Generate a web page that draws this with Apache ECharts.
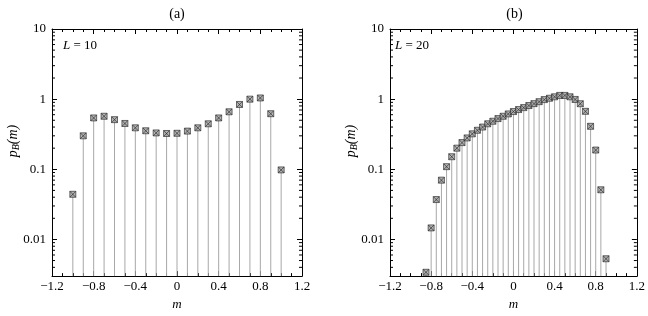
<!DOCTYPE html>
<html><head><meta charset="utf-8">
<script src="https://cdn.jsdelivr.net/npm/echarts@6/dist/echarts.min.js"></script>
<style>html,body{margin:0;padding:0;background:#fff}#c{width:648px;height:316px}</style>
</head><body><div id="c"></div>
<script>
// ---- data ----
const mL10 = [-1,-0.9,-0.8,-0.7,-0.6,-0.5,-0.4,-0.3,-0.2,-0.1,0,0.1,0.2,0.3,0.4,0.5,0.6,0.7,0.8,0.9,1];
const pL10 = [0.044,0.30,0.54,0.57,0.51,0.45,0.39,0.354,0.33,0.324,0.326,0.35,0.39,0.445,0.54,0.66,0.84,1.0,1.04,0.62,0.098];
const mL20 = [-0.85,-0.8,-0.75,-0.7,-0.65,-0.6,-0.55,-0.5,-0.45,-0.4,-0.35,-0.3,-0.25,-0.2,-0.15,-0.1,-0.05,0,
              0.05,0.1,0.15,0.2,0.25,0.3,0.35,0.4,0.45,0.5,0.55,0.6,0.65,0.7,0.75,0.8,0.85,0.9];
const pL20 = [0.0034,0.0146,0.037,0.070,0.109,0.151,0.20,0.24,0.28,0.32,0.36,0.40,0.445,0.484,0.528,0.57,0.616,0.665,
              0.71,0.757,0.81,0.863,0.92,0.985,1.03,1.08,1.13,1.13,1.08,0.99,0.86,0.67,0.41,0.188,0.051,0.0053];
const xTickLabels = [-1.2,-0.8,-0.4,0,0.4,0.8,1.2];
const yTickLabels = [0.01,0.1,1,10];
const yMinorTicks = [0.004,0.005,0.006,0.007,0.008,0.009,0.02,0.03,0.04,0.05,0.06,0.07,0.08,0.09,
                     0.2,0.3,0.4,0.5,0.6,0.7,0.8,0.9,2,3,4,5,6,7,8,9];
const panelTitles = ['(a)','(b)'];
const panelSizes = ['10','20'];
const X_MIN = -1.2, X_MAX = 1.2, Y_MIN = 0.003, Y_MAX = 10;

// ---- chart ----
const FONT = "'Liberation Serif', 'Times New Roman', serif";
const grids = [
  {left:52, top:29, width:250, height:249},
  {left:390, top:29, width:249, height:249}
];
const panels = [[mL10,pL10],[mL20,pL20]];
const fmtX = v => { const s = String(Math.round(v*10)/10); return s.replace('-', '\u2212'); };
const fmtY = v => { const r = +(+v).toPrecision(6); return yTickLabels.indexOf(r) >= 0 ? String(r) : ''; };

const xAxes = [], yAxes = [], series = [], graphic = [];
grids.forEach((g, i) => {
  const axLine = {show:true, onZero:false, lineStyle:{color:'#000', width:1}};
  xAxes.push({type:'value', gridIndex:i, position:'bottom', min:X_MIN, max:X_MAX, interval:0.4,
    axisLine:axLine, axisTick:{inside:true, length:5, lineStyle:{color:'#000'}},
    minorTick:{show:true, splitNumber:4, length:3, lineStyle:{color:'#000'}},
    splitLine:{show:false},
    axisLabel:{formatter:fmtX, fontFamily:FONT, fontSize:13, color:'#000', margin:4},
    name:'m', nameLocation:'middle', nameGap:17,
    nameTextStyle:{fontFamily:FONT, fontSize:13, fontStyle:'italic', color:'#000', verticalAlign:'top'}});
  xAxes.push({type:'value', gridIndex:i, position:'top', min:X_MIN, max:X_MAX, interval:0.4,
    axisLine:axLine, axisTick:{inside:true, length:5, lineStyle:{color:'#000'}},
    minorTick:{show:true, splitNumber:4, length:3, lineStyle:{color:'#000'}},
    splitLine:{show:false}, axisLabel:{show:false}});
  yAxes.push({type:'log', logBase:10, gridIndex:i, position:'left', min:Y_MIN, max:Y_MAX,
    axisLine:axLine, axisTick:{inside:true, length:5, lineStyle:{color:'#000'}},
    splitLine:{show:false}, minorTick:{show:false},
    axisLabel:{formatter:fmtY, fontFamily:FONT, fontSize:13, color:'#000', margin:6, showMinLabel:true}});
  yAxes.push({type:'log', logBase:10, gridIndex:i, position:'right', min:Y_MIN, max:Y_MAX,
    axisLine:axLine, axisTick:{inside:true, length:5, lineStyle:{color:'#000'}},
    splitLine:{show:false}, minorTick:{show:false}, axisLabel:{show:false}});

  const [ms, ps] = panels[i];
  const pts = ms.map((m, k) => [m, ps[k]]);
  // stems
  series.push({type:'custom', xAxisIndex:2*i, yAxisIndex:2*i, data:pts, silent:true,
    encode:{x:0, y:1},
    renderItem:(params, api) => {
      const x = api.value(0), v = api.value(1);
      const top = api.coord([x, v]);
      const bot = api.coord([x, Y_MIN]);
      return {type:'line', shape:{x1:top[0], y1:top[1], x2:bot[0], y2:bot[1]},
              style:{stroke:'#a8a8a8', lineWidth:1}};
    }});
  // minor log ticks on left & right
  series.push({type:'custom', xAxisIndex:2*i, yAxisIndex:2*i, data:yMinorTicks.map(v => [0, v]), silent:true,
    encode:{x:0, y:1},
    renderItem:(params, api) => {
      const cs = params.coordSys;
      const y = api.coord([0, api.value(1)])[1];
      return {type:'group', children:[
        {type:'line', shape:{x1:cs.x, y1:y, x2:cs.x+3, y2:y}, style:{stroke:'#000', lineWidth:1}},
        {type:'line', shape:{x1:cs.x+cs.width-3, y1:y, x2:cs.x+cs.width, y2:y}, style:{stroke:'#000', lineWidth:1}}
      ]};
    }});
  // markers
  series.push({type:'scatter', xAxisIndex:2*i, yAxisIndex:2*i, data:pts, silent:true,
    symbol:'path://M0,0H10V10H0Z M0,0L10,10 M10,0L0,10', symbolSize:6,
    itemStyle:{color:'#a0a0a0', borderColor:'#222', borderWidth:0.8}, z:5});

  // titles and annotations
  graphic.push({type:'text', x:g.left + g.width/2, y:14,
    style:{text:panelTitles[i], fontFamily:FONT, fontSize:14, fill:'#000', align:'center', verticalAlign:'middle'}});
  graphic.push({type:'text', x:(i===0 ? 63 : 395), y:46,
    style:{text:'{i|L} = ' + panelSizes[i], fontFamily:FONT, fontSize:13, fill:'#000', verticalAlign:'middle',
      rich:{i:{fontFamily:FONT, fontSize:13, fontStyle:'italic'}}}});
  graphic.push({type:'text', x:(i===0 ? 13 : 351), y:141, rotation:Math.PI/2,
    style:{text:'{i|p}{s|B}{i|(m)}', fontFamily:FONT, fontSize:14, fill:'#000', align:'center', verticalAlign:'middle',
      rich:{i:{fontFamily:FONT, fontSize:14, fontStyle:'italic'}, s:{fontFamily:FONT, fontSize:10, fontStyle:'italic', verticalAlign:'bottom', padding:[6,0,0,0]}}}});
});

const chart = echarts.init(document.getElementById('c'), null, {renderer:'canvas'});
chart.setOption({
  animation:false,
  backgroundColor:'#fff',
  grid:grids,
  xAxis:xAxes,
  yAxis:yAxes,
  series:series,
  graphic:graphic
});
</script></body></html>
